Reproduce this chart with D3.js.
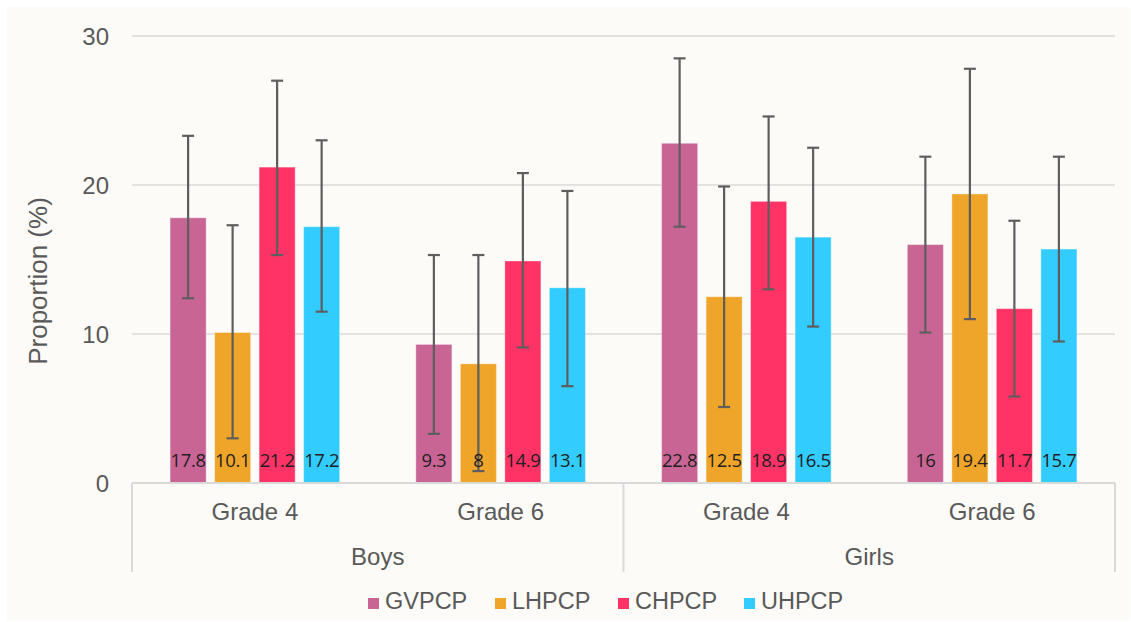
<!DOCTYPE html>
<html>
<head>
<meta charset="utf-8">
<script src="https://cdn.jsdelivr.net/npm/d3@7"></script>
<style>
  html, body { margin: 0; padding: 0; background: #ffffff; }
  svg { display: block; }
</style>
</head>
<body>
<svg id="chart" width="1131" height="622"></svg>
<script>
// Categories
const sexes = ["Boys", "Girls"];
const grades = ["Grade 4", "Grade 6"];
const series = ["GVPCP", "LHPCP", "CHPCP", "UHPCP"];
const colors = ["#C96595", "#EFA52A", "#FF3366", "#33CCFF"];

// Proportions (%) per group: Boys G4, Boys G6, Girls G4, Girls G6
const gvpcp = [17.8, 9.3, 22.8, 16];
const lhpcp = [10.1, 8, 12.5, 19.4];
const chpcp = [21.2, 14.9, 18.9, 11.7];
const uhpcp = [17.2, 13.1, 16.5, 15.7];

// 95% confidence interval bounds
const gvpcpLow  = [12.4, 3.3, 17.2, 10.1];
const gvpcpHigh = [23.3, 15.3, 28.5, 21.9];
const lhpcpLow  = [3.0, 0.8, 5.1, 11.0];
const lhpcpHigh = [17.3, 15.3, 19.9, 27.8];
const chpcpLow  = [15.3, 9.1, 13.0, 5.8];
const chpcpHigh = [27.0, 20.8, 24.6, 17.6];
const uhpcpLow  = [11.5, 6.5, 10.5, 9.5];
const uhpcpHigh = [23.0, 19.6, 22.5, 21.9];

const yTicks = [0, 10, 20, 30];

const values = [gvpcp, lhpcp, chpcp, uhpcp];
const lows = [gvpcpLow, lhpcpLow, chpcpLow, uhpcpLow];
const highs = [gvpcpHigh, lhpcpHigh, chpcpHigh, uhpcpHigh];

const groups = [];
sexes.forEach(s => grades.forEach(g => groups.push(s + "|" + g)));

const svg = d3.select("#chart");

// Chart panel
svg.append("rect").attr("x", 7).attr("y", 7).attr("width", 1123).attr("height", 613)
  .attr("fill", "#FCFBF7");

const plot = { left: 132, right: 1115, top: 36, bottom: 483 };

const y = d3.scaleLinear().domain([0, 30]).range([plot.bottom, plot.top]);
const xSex = d3.scaleBand().domain(sexes).range([plot.left, plot.right]);
const xGroup = d3.scaleBand().domain(groups).range([plot.left, plot.right]);
const xSeries = d3.scaleBand().domain(series).range([0, xGroup.bandwidth()])
  .paddingInner(0.19).paddingOuter(0.856);

const axisFont = "'Liberation Sans', Arial, sans-serif";
const textColor = "#595959";

// Gridlines
svg.append("g").selectAll("line").data(yTicks.filter(t => t > 0)).join("line")
  .attr("x1", plot.left).attr("x2", plot.right)
  .attr("y1", d => y(d)).attr("y2", d => y(d))
  .attr("stroke", "#E3E2E0").attr("stroke-width", 2);

// Y axis tick labels
const yAxis = d3.axisLeft(y).tickValues(yTicks).tickSize(0).tickPadding(0);
const yg = svg.append("g").attr("transform", `translate(109,0)`).call(yAxis);
yg.select(".domain").remove();
yg.selectAll("text")
  .attr("font-family", axisFont).attr("font-size", 24).attr("fill", textColor)
  .attr("dy", "0.36em");

// Y axis title
svg.append("text")
  .attr("transform", "translate(47,281) rotate(-90)")
  .attr("text-anchor", "middle")
  .attr("font-family", axisFont).attr("font-size", 26).attr("fill", textColor)
  .text("Proportion (%)");

// Bars
const barData = [];
series.forEach((s, si) => {
  groups.forEach((g, gi) => {
    barData.push({ s, si, g, v: values[si][gi], lo: lows[si][gi], hi: highs[si][gi] });
  });
});

const bx = d => xGroup(d.g) + xSeries(d.s);

svg.append("g").selectAll("rect").data(barData).join("rect")
  .attr("x", bx)
  .attr("y", d => y(d.v))
  .attr("width", xSeries.bandwidth())
  .attr("height", d => y(0) - y(d.v))
  .attr("fill", d => colors[d.si])
  .attr("stroke", "rgba(255,255,255,0.35)").attr("stroke-width", 1);

// Category axis lines
const axisLine = "#D9D9D9";
svg.append("line").attr("x1", plot.left).attr("x2", plot.right)
  .attr("y1", y(0)).attr("y2", y(0)).attr("stroke", axisLine).attr("stroke-width", 2);
const dividers = [plot.left].concat(sexes.map(s => xSex(s) + xSex.bandwidth()));
svg.append("g").selectAll("line").data(dividers).join("line")
  .attr("x1", d => d).attr("x2", d => d)
  .attr("y1", y(0)).attr("y2", 572)
  .attr("stroke", axisLine).attr("stroke-width", 2);

// Error bars
const eb = svg.append("g").attr("stroke", "#5E5E5E").attr("stroke-width", 2.2);
const cx = d => bx(d) + xSeries.bandwidth() / 2;
eb.selectAll("line.v").data(barData).join("line").attr("class", "v")
  .attr("x1", cx).attr("x2", cx).attr("y1", d => y(d.lo)).attr("y2", d => y(d.hi));
eb.selectAll("line.hi").data(barData).join("line").attr("class", "hi")
  .attr("x1", d => cx(d) - 6).attr("x2", d => cx(d) + 6)
  .attr("y1", d => y(d.hi)).attr("y2", d => y(d.hi));
eb.selectAll("line.lo").data(barData).join("line").attr("class", "lo")
  .attr("x1", d => cx(d) - 6).attr("x2", d => cx(d) + 6)
  .attr("y1", d => y(d.lo)).attr("y2", d => y(d.lo));

// Value labels inside the base of each bar
svg.append("g").selectAll("text").data(barData).join("text")
  .attr("x", cx).attr("y", 467)
  .attr("text-anchor", "middle")
  .attr("font-family", "'Open Sans', 'Noto Sans', sans-serif")
  .attr("font-size", 18.5).attr("fill", "#1E1E1E")
  .attr("letter-spacing", "-0.4")
  .text(d => d.v);

// Grade labels
svg.append("g").selectAll("text").data(groups).join("text")
  .attr("x", d => xGroup(d) + xGroup.bandwidth() / 2).attr("y", 520)
  .attr("text-anchor", "middle")
  .attr("font-family", axisFont).attr("font-size", 24).attr("fill", textColor)
  .text(d => d.split("|")[1]);

// Sex labels
svg.append("g").selectAll("text").data(sexes).join("text")
  .attr("x", d => xSex(d) + xSex.bandwidth() / 2).attr("y", 565)
  .attr("text-anchor", "middle")
  .attr("font-family", axisFont).attr("font-size", 24).attr("fill", textColor)
  .text(d => d);

// Legend
const legendX = [368, 495, 618, 744];
const lg = svg.append("g").selectAll("g").data(series).join("g")
  .attr("transform", (d, i) => `translate(${legendX[i]},598)`);
lg.append("rect").attr("width", 11).attr("height", 11).attr("fill", (d, i) => colors[i]);
lg.append("text").attr("x", 17).attr("y", 11)
  .attr("font-family", axisFont).attr("font-size", 23.5).attr("fill", textColor)
  .text(d => d);
</script>
</body>
</html>
